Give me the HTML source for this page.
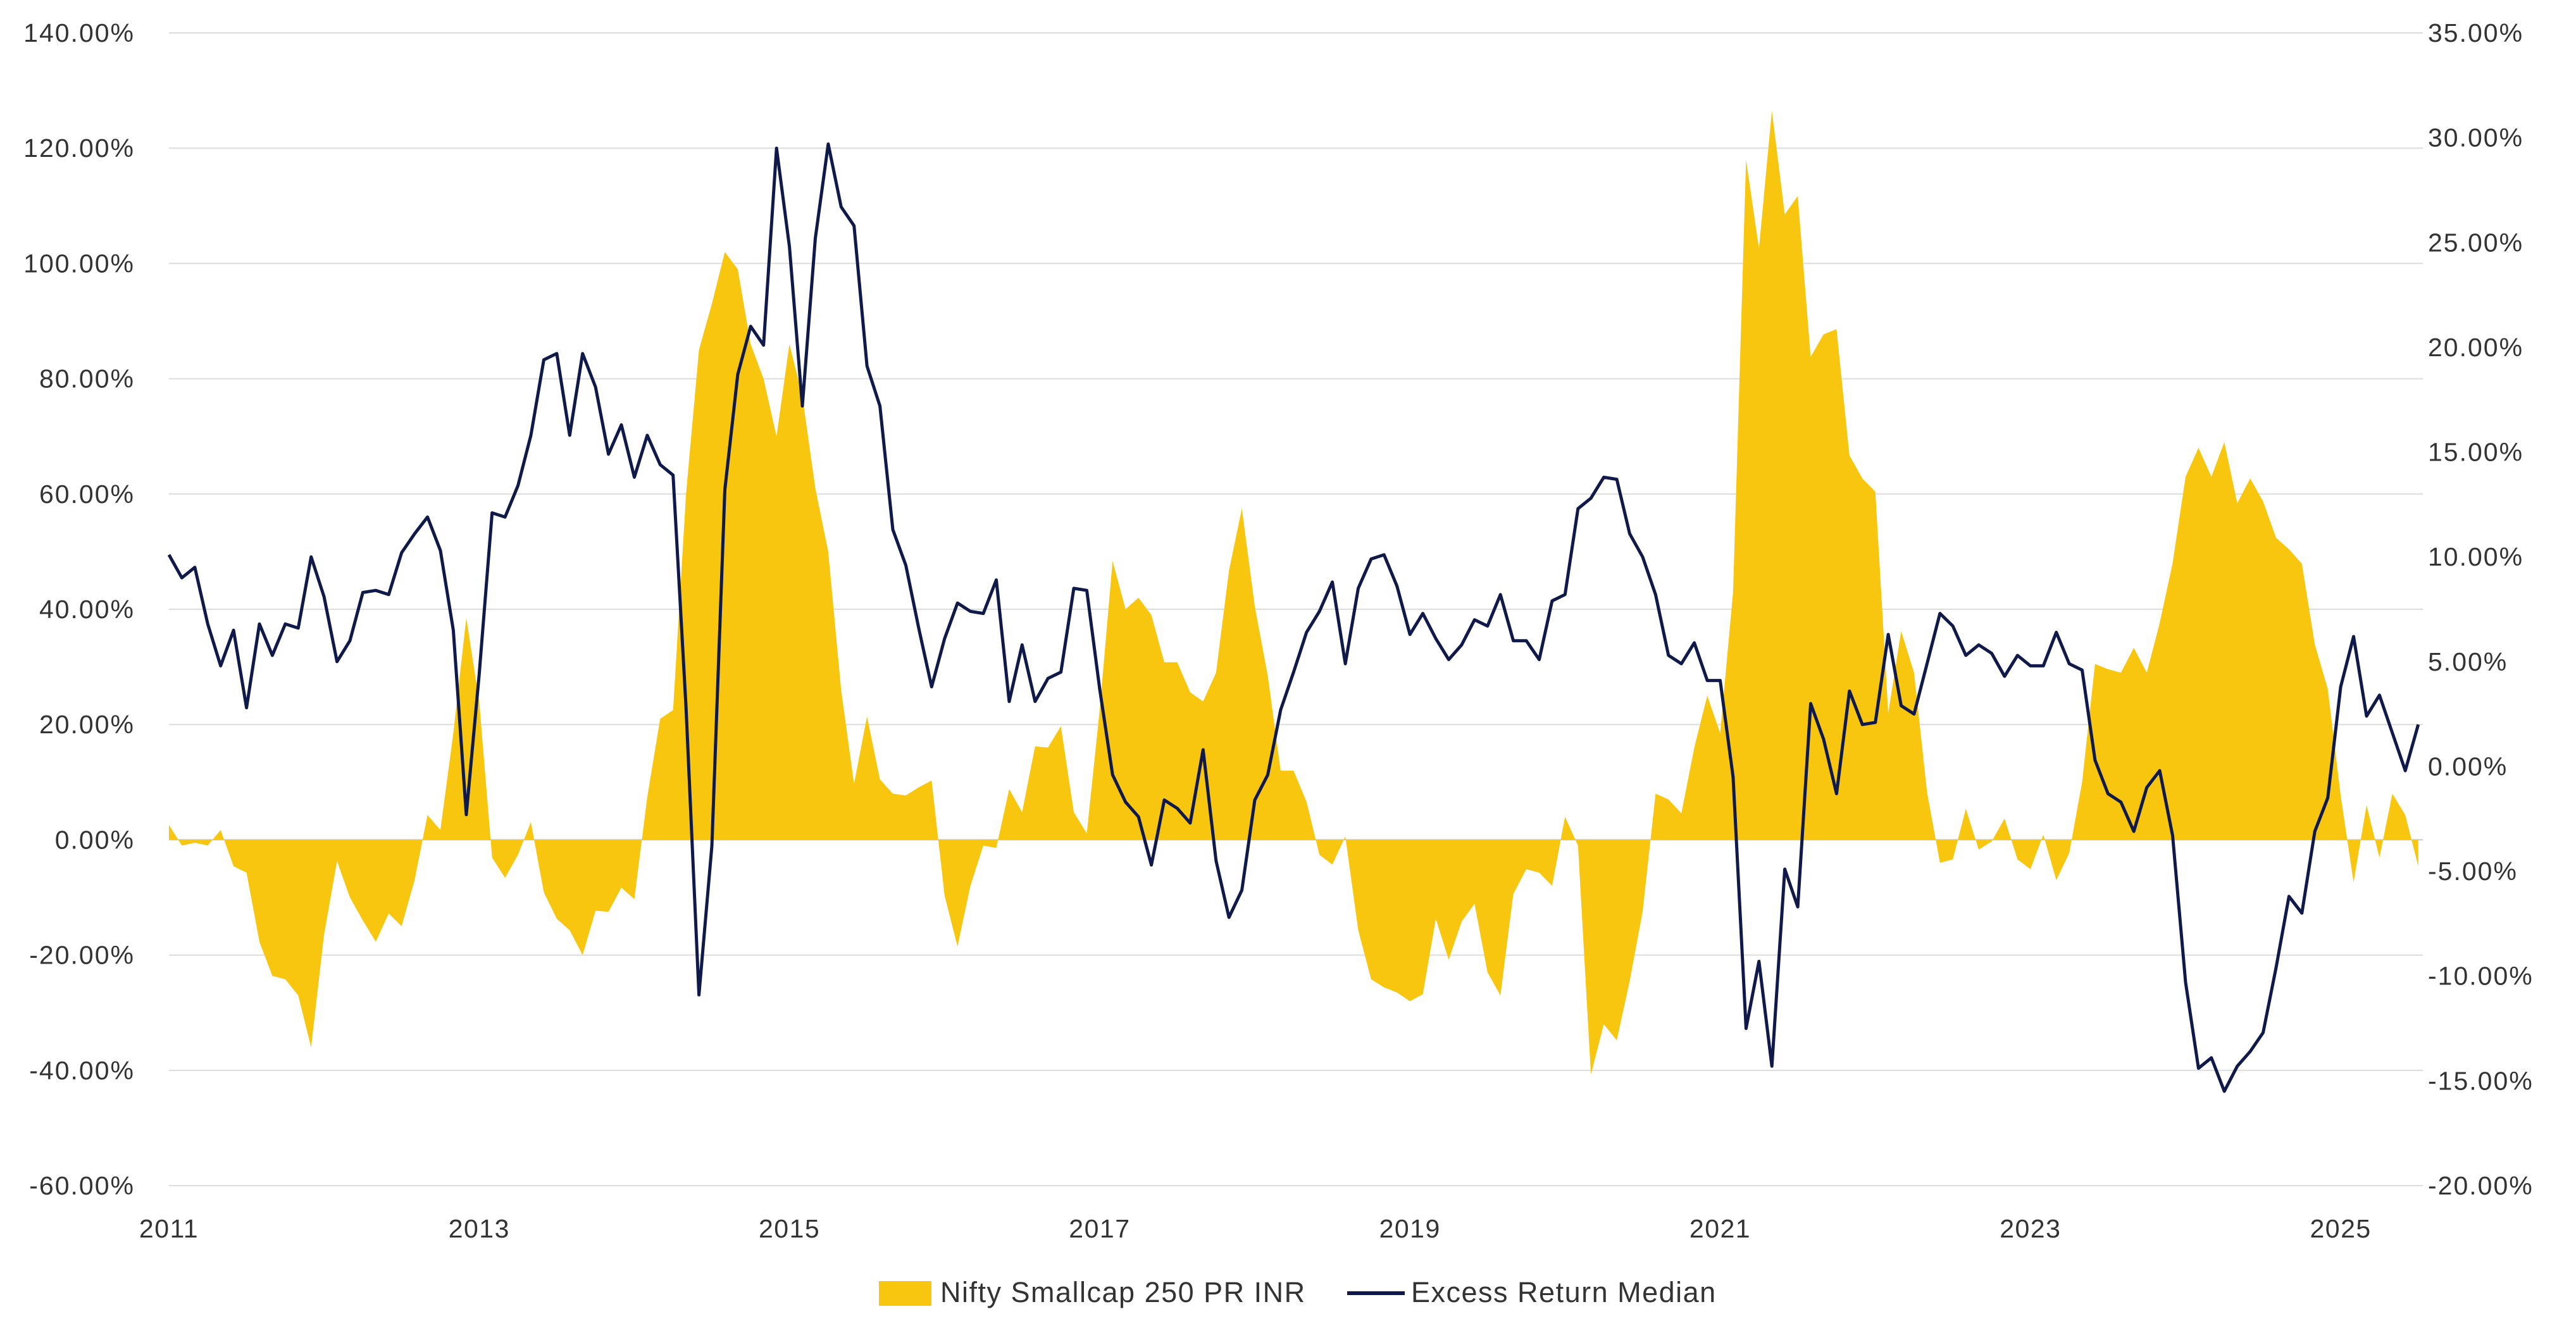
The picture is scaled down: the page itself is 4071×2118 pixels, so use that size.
<!DOCTYPE html>
<html><head><meta charset="utf-8"><style>
html,body{margin:0;padding:0;background:#fff;}
svg{display:block;font-family:"Liberation Sans",sans-serif;}
</style></head><body>
<svg id="chart" width="4071" height="2118" viewBox="0 0 4071 2118" xmlns="http://www.w3.org/2000/svg">
<g id="grid"></g>
<g id="area"></g>
<g id="line"></g>
<g id="yl"></g>
<g id="yr"></g>
<g id="xa"></g>
<g>
  <rect x="1389" y="2025" width="83" height="39" fill="#F8C60E"/>
  <text x="1486" y="2058" font-size="45" letter-spacing="1.5" fill="#333">Nifty Smallcap 250 PR INR</text>
  <line x1="2129" y1="2044" x2="2220" y2="2044" stroke="#0f1a4a" stroke-width="6"/>
  <text x="2230" y="2058" font-size="45" letter-spacing="1.5" fill="#333">Excess Return Median</text>
</g>
</svg>
<script>
const startYear = 2011;
const areaValues = [2.6,-1,-0.5,-1,1.7,-4.6,-5.7,-17.7,-23.6,-24.2,
-27,-36,-16.5,-3.7,-10,-14,-17.7,-12.8,-15,-7,
4.3,1.7,18.5,38.5,24,-3.1,-6.6,-2.6,3.1,-9.1,
-13.7,-15.7,-20,-12.3,-12.5,-8.3,-10.3,7.4,21,22.5,
60,85,93,102,99,86,80,70,86,77,
61,50,26,9.7,21.4,10.5,8,7.7,9.1,10.3,
-9.7,-18.5,-8,-1,-1.4,8.8,4.8,16.2,16,19.7,
4.8,1.1,22.5,48.4,40,42,39,30.8,30.8,25.6,
24,29,46.7,57.5,40.5,28.5,12,12,6.6,-2.6,
-4.3,0.6,-15.7,-24.2,-25.6,-26.5,-28,-26.8,-13.7,-20.8,
-14.2,-11.1,-23,-27,-9.4,-5.1,-5.7,-8,4,-1,
-40.7,-32,-34.8,-24.5,-12.5,8,7,4.6,16,25,
18.5,43,118,102.6,126.5,108.5,111.7,83.8,87.7,88.6,
66.7,62.7,60.4,22,36.2,29,8.3,-4,-3.4,5.4,
-1.7,-0.3,3.7,-3.4,-5.1,0.9,-7,-2.3,10,30.5,
29.6,29,33.3,29,37.6,48,63,68,63,69,
58.4,62.7,58.7,52.4,50.4,47.9,33.9,26.2,7.7,-7.4,
6,-3.1,8,4.3,-4.6];
const lineValues = [10.1,9.0,9.5,6.8,4.8,6.5,2.8,6.8,5.3,6.8,
6.6,10.0,8.1,5.0,6.0,8.3,8.4,8.2,10.2,11.1,
11.9,10.3,6.5,-2.3,4.4,12.1,11.9,13.4,15.8,19.4,
19.7,15.8,19.7,18.1,14.9,16.3,13.8,15.8,14.4,13.9,
2.8,-10.9,-3.8,13.2,18.7,21.0,20.1,29.5,24.8,17.2,
25.2,29.7,26.7,25.8,19.1,17.2,11.3,9.6,6.6,3.8,
6.1,7.8,7.4,7.3,8.9,3.1,5.8,3.1,4.2,4.5,
8.5,8.4,3.7,-0.4,-1.7,-2.4,-4.7,-1.6,-2.0,-2.7,
0.8,-4.5,-7.2,-5.9,-1.6,-0.4,2.7,4.5,6.4,7.4,
8.8,4.9,8.5,9.9,10.1,8.6,6.3,7.3,6.1,5.1,
5.8,7.0,6.7,8.2,6.0,6.0,5.1,7.9,8.2,12.3,
12.8,13.8,13.7,11.1,10.0,8.2,5.3,4.9,5.9,4.1,
4.1,-0.5,-12.5,-9.3,-14.3,-4.9,-6.7,3.0,1.3,-1.3,
3.6,2.0,2.1,6.3,2.9,2.5,4.9,7.3,6.7,5.3,
5.8,5.4,4.3,5.3,4.8,4.8,6.4,4.9,4.6,0.3,
-1.3,-1.7,-3.1,-1.0,-0.2,-3.3,-10.3,-14.4,-13.9,-15.5,
-14.3,-13.6,-12.7,-9.6,-6.2,-7.0,-3.1,-1.5,3.8,6.2,
2.4,3.4,1.6,-0.2,2.0];
const leftTicks = [140,120,100,80,60,40,20,0,-20,-40,-60];
const rightTicks = [35,30,25,20,15,10,5,0,-5,-10,-15,-20];
const xTicks = [2011,2013,2015,2017,2019,2021,2023,2025];

const NS="http://www.w3.org/2000/svg";
const X0=267, PX_YEAR=245.15, YT=52, YB=1874;
const xs = y => X0 + (y-2011)*PX_YEAR;
const yL = v => YT + (140-v)/200*(YB-YT);
const yR = v => YT + (35-v)/55*(YB-YT);
const mk=(t,a,p)=>{const e=document.createElementNS(NS,t);for(const k in a)e.setAttribute(k,a[k]);p.appendChild(e);return e;};
const monthX = i => xs(startYear + i/12);

const grid=document.getElementById('grid');
leftTicks.forEach(v=>{
  const l=mk('line',{x1:267,x2:3829,y1:yL(v),y2:yL(v),stroke:v===0?'#c8c8c8':'#dcdcdc','stroke-width':2},grid);
  
  
});
const yl=document.getElementById('yl');
leftTicks.forEach(v=>{
  const t=mk('text',{x:213,y:yL(v)+14,'text-anchor':'end','font-size':41,'letter-spacing':2,fill:'#333'},yl);
  t.textContent=v.toFixed(2)+'%';
  
  
});
const yr=document.getElementById('yr');
rightTicks.forEach(v=>{
  const t=mk('text',{x:3837,y:yR(v)+14,'font-size':41,'letter-spacing':2,fill:'#333'},yr);
  t.textContent=v.toFixed(2)+'%';
  
  
});
const xa=document.getElementById('xa');
xTicks.forEach(v=>{
  const t=mk('text',{x:xs(v),y:1956,'text-anchor':'middle','font-size':41,'letter-spacing':1.5,fill:'#333'},xa);
  t.textContent=v;
  
  
});
let d='M'+monthX(0)+','+yL(0);
areaValues.forEach((v,i)=>{d+=' L'+monthX(i).toFixed(1)+','+yL(v).toFixed(1);});
d+=' L'+monthX(areaValues.length-1).toFixed(1)+','+yL(0)+' Z';
const ap=mk('path',{d:d,fill:'#F8C60E'},document.getElementById('area'));


const pts=lineValues.map((v,i)=>monthX(i).toFixed(1)+','+yR(v).toFixed(1)).join(' ');
const lp=mk('polyline',{points:pts,fill:'none',stroke:'#0f1a4a','stroke-width':5,'stroke-linejoin':'round'},document.getElementById('line'));


</script>
</body></html>
